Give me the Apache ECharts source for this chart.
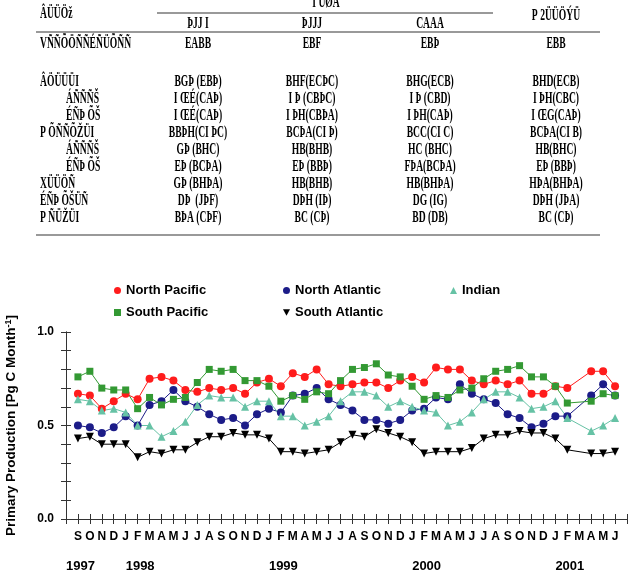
<!DOCTYPE html>
<html>
<head>
<meta charset="utf-8">
<script src="https://cdn.jsdelivr.net/npm/echarts@6/dist/echarts.min.js"></script>
<style>
  html, body { margin: 0; padding: 0; background: #fff; }
  #main { width: 634px; height: 581px; }
</style>
</head>
<body>
<div id="main"></div>
<script>
// months on the x axis, position 1 = Sep 1997 ... 46 = Jun 2001
var months = ['S','O','N','D',
  'J','F','M','A','M','J','J','A','S','O','N','D',
  'J','F','M','A','M','J','J','A','S','O','N','D',
  'J','F','M','A','M','J','J','A','S','O','N','D',
  'J','F','M','A','M','J'];
var years = ['1997', '1998', '1999', '2000', '2001'];
var yearAt = [0, 5, 17, 29, 41];
var yTickLabels = ['0.0', '0.5', '1.0'];

// Pg C / month, null = no value for that month
var northPacific = [0.67,0.66,0.59,0.63,0.67,0.64,0.75,0.76,0.74,0.69,0.68,0.70,0.69,0.70,0.67,0.73,0.75,0.71,0.78,0.76,0.80,0.72,0.71,0.72,0.73,0.73,0.70,0.74,0.76,0.73,0.81,0.80,0.80,0.74,0.72,0.74,0.72,0.74,0.67,0.67,0.71,0.70,null,0.79,0.79,0.71];
var northAtlantic = [0.50,0.49,0.46,0.49,0.55,0.50,0.61,0.63,0.69,0.63,0.60,0.56,0.53,0.54,0.50,0.56,0.59,0.57,0.66,0.67,0.70,0.64,0.61,0.58,0.53,0.53,0.51,0.53,0.58,0.59,0.65,0.64,0.72,0.67,0.64,0.62,0.56,0.54,0.49,0.51,0.55,0.55,null,0.66,0.72,0.66];
var indian = [0.64,0.63,0.58,0.59,0.57,0.50,0.50,0.44,0.47,0.52,0.61,0.66,0.65,0.65,0.60,0.63,0.63,0.55,0.55,0.50,0.52,0.55,0.63,0.68,0.68,0.66,0.60,0.63,0.60,0.58,0.57,0.50,0.52,0.57,0.64,0.68,0.68,0.65,0.59,0.60,0.63,0.54,null,0.47,0.50,0.54];
var southPacific = [0.76,0.79,0.70,0.69,0.69,0.59,0.65,0.61,0.64,0.65,0.73,0.80,0.79,0.80,0.74,0.74,0.71,0.63,0.66,0.64,0.68,0.67,0.74,0.80,0.81,0.83,0.77,0.76,0.71,0.64,0.66,0.65,0.69,0.70,0.75,0.79,0.80,0.82,0.76,0.76,0.71,0.62,null,0.63,0.67,0.66];
var southAtlantic = [0.43,0.44,0.40,0.40,0.40,0.33,0.36,0.35,0.37,0.37,0.41,0.44,0.44,0.46,0.45,0.45,0.43,0.36,0.36,0.35,0.36,0.37,0.41,0.45,0.44,0.48,0.46,0.44,0.41,0.35,0.36,0.36,0.36,0.38,0.43,0.45,0.45,0.47,0.46,0.46,0.43,0.37,null,0.35,0.35,0.36];

// table above the chart (text as it shows in the picture)
var tableGroup = 'Ï ÜØÀ';
var tableCorner = 'ÂÜÜÖž';
var tableYears = ['ÞJJ I', 'ÞJJJ', 'CAAA'];
var tableMean = 'P 2ÜÜÖÝÜ';
var rowNames = ['VÑÑÕÖÑÑÉÑÜÕÑÑ', 'ÂÖÜÜÜI', 'ÁÑÑÑŠ', 'ÉÑÞ ÕŠ', 'P ÕÑÑÕŽÜI', 'ÁÑÑÑŠ', 'ÉÑÞ ÕŠ', 'XÜÜÖÑ', 'ÉÑÞ ÕŠÜÑ', 'P ÑÜŽÜI'];
var rowIndent = [0, 0, 1, 1, 0, 1, 1, 0, 0, 0];
var col1998 = ['EABB', 'BGÞ (EBÞ)', 'I ŒÉ(CAÞ)', 'I ŒÉ(CAÞ)', 'BBÞH(CI ÞC)', 'GÞ (BHC)', 'EÞ (BCÞA)', 'GÞ (BHÞA)', 'DÞ  (JÞF)', 'BÞA (CÞF)'];
var col1999 = ['EBF', 'BHF(ECÞC)', 'I Þ (CBÞC)', 'I ÞH(CBÞA)', 'BCÞA(CI Þ)', 'HB(BHB)', 'EÞ (BBÞ)', 'HB(BHB)', 'DÞH (IÞ)', 'BC (CÞ)'];
var col2000 = ['EBÞ', 'BHG(ECB)', 'I Þ (CBD)', 'I ÞH(CAÞ)', 'BCC(CI C)', 'HC (BHC)', 'FÞA(BCÞA)', 'HB(BHÞA)', 'DG (IG)', 'BD (DB)'];
var colMean = ['EBB', 'BHD(ECB)', 'I ÞH(CBC)', 'I ŒG(CAÞ)', 'BCÞA(CI B)', 'HB(BHC)', 'EÞ (BBÞ)', 'HÞA(BHÞA)', 'DÞH (JÞA)', 'BC (CÞ)'];

var chartDom = document.getElementById('main');
var myChart = echarts.init(chartDom);
var sans = '"Liberation Sans", Arial, sans-serif';

function pts(vals) {
  return vals.map(function (v, i) { return [i + 1, v === null ? '-' : v]; });
}

// table layout
var colX = [198, 312, 430, 556];
var rowY = [44, 82, 99, 116, 133, 150, 167, 184, 201, 218];
var graphics = [];
function txt(s, x, y, align) {
  graphics.push({
    type: 'text', x: x, y: y, scaleX: 0.6,
    style: { text: s, font: 'bold 16px "Liberation Serif", serif', fill: '#000', align: align || 'center', verticalAlign: 'middle' }
  });
}
function hline(x1, x2, y) {
  graphics.push({
    type: 'line', shape: { x1: x1, y1: y, x2: x2, y2: y },
    style: { stroke: '#777', lineWidth: 1.6 }
  });
}
txt(tableGroup, 326, 3);
hline(157, 493, 13);
txt(tableCorner, 40, 14, 'left');
tableYears.forEach(function (s, i) { txt(s, colX[i], 24); });
txt(tableMean, colX[3], 16);
hline(36, 600, 32);
var cols = [col1998, col1999, col2000, colMean];
rowNames.forEach(function (name, r) {
  txt(name, rowIndent[r] ? 66 : 40, rowY[r], 'left');
  cols.forEach(function (col, c) { txt(col[r], colX[c], rowY[r]); });
});
hline(36, 600, 235);

var names = ['North Pacific', 'North Atlantic', 'Indian', 'South Pacific', 'South Atlantic'];
var colors = ['#ff1c1c', '#1c1c88', '#66c2a5', '#339933', '#000000'];
var symbols = ['circle', 'circle', 'triangle', 'rect', 'triangle'];
var legendIcons = ['circle', 'circle', 'triangle', 'rect', 'path://M0,0L10,0L5,9Z'];
var rotates = [0, 0, 0, 0, 180];
var values = [northPacific, northAtlantic, indian, southPacific, southAtlantic];
var legendPos = [[109, 279], [278, 279], [445, 279], [109, 301], [278, 301]];

var series = names.map(function (n, i) {
  return {
    name: n,
    type: 'line',
    data: pts(values[i]),
    symbol: symbols[i],
    symbolSize: i === 3 ? 7 : 8,
    symbolRotate: rotates[i],
    showAllSymbol: true,
    connectNulls: true,
    itemStyle: { color: colors[i] },
    lineStyle: { color: colors[i], width: 1 },
    emphasis: { disabled: true }
  };
});

var legends = names.map(function (n, i) {
  return {
    data: [{ name: n, icon: legendIcons[i] }],
    left: legendPos[i][0],
    top: legendPos[i][1],
    itemWidth: 7,
    itemHeight: 7,
    itemGap: 4,
    symbolRotate: 0,
    textStyle: { fontSize: 13, fontWeight: 'bold', color: '#000', fontFamily: sans }
  };
});

var tickLine = { show: true, lineStyle: { color: '#333', width: 1 } };
var tick = { show: true, length: 5, lineStyle: { color: '#333' } };

var option = {
  animation: false,
  backgroundColor: '#fff',
  graphic: graphics,
  legend: legends,
  grid: { left: 66, right: 7, top: 332, bottom: 62, containLabel: false, outerBoundsMode: 'none' },
  xAxis: [
    {
      type: 'value', min: 0, max: 47, interval: 1, position: 'bottom',
      axisLine: tickLine, axisTick: tick, splitLine: { show: false },
      axisLabel: {
        margin: 12, fontSize: 12, fontWeight: 'bold', color: '#000', fontFamily: sans,
        formatter: function (v) { return months[v - 1] || ''; }
      }
    },
    {
      type: 'value', min: 0, max: 47, interval: 1, position: 'top',
      axisLine: tickLine, axisTick: tick, splitLine: { show: false },
      axisLabel: { show: false }
    },
    {
      type: 'value', min: 0, max: 47, interval: 1, position: 'bottom',
      axisLine: { show: false }, axisTick: { show: false }, splitLine: { show: false },
      axisLabel: {
        margin: 41, fontSize: 13, fontWeight: 'bold', color: '#000', fontFamily: sans, align: 'left',
        formatter: function (v) { var k = yearAt.indexOf(v); return k >= 0 ? years[k] : ''; }
      }
    }
  ],
  yAxis: [
    {
      type: 'value', min: 0, max: 1, interval: 0.1, position: 'left',
      axisLine: tickLine, axisTick: tick, splitLine: { show: false },
      name: '{t|Primary Production [Pg C Month}{s|-1}{t|]}',
      nameLocation: 'middle', nameGap: 48, nameRotate: 90,
      nameTextStyle: {
        rich: {
          t: { fontSize: 13.5, fontWeight: 'bold', color: '#000', fontFamily: sans },
          s: { fontSize: 9, fontWeight: 'bold', color: '#000', fontFamily: sans, verticalAlign: 'top' }
        }
      },
      axisLabel: {
        margin: 12, fontSize: 12, fontWeight: 'bold', color: '#000', fontFamily: sans,
        formatter: function (v) {
          var k = Math.round(v * 10);
          return k % 5 === 0 ? yTickLabels[k / 5] : '';
        }
      }
    },
    {
      type: 'value', min: 0, max: 1, interval: 0.1, position: 'right',
      axisLine: tickLine, axisTick: tick, splitLine: { show: false },
      axisLabel: { show: false }
    }
  ],
  series: series
};

option && myChart.setOption(option);
</script>
</body>
</html>
